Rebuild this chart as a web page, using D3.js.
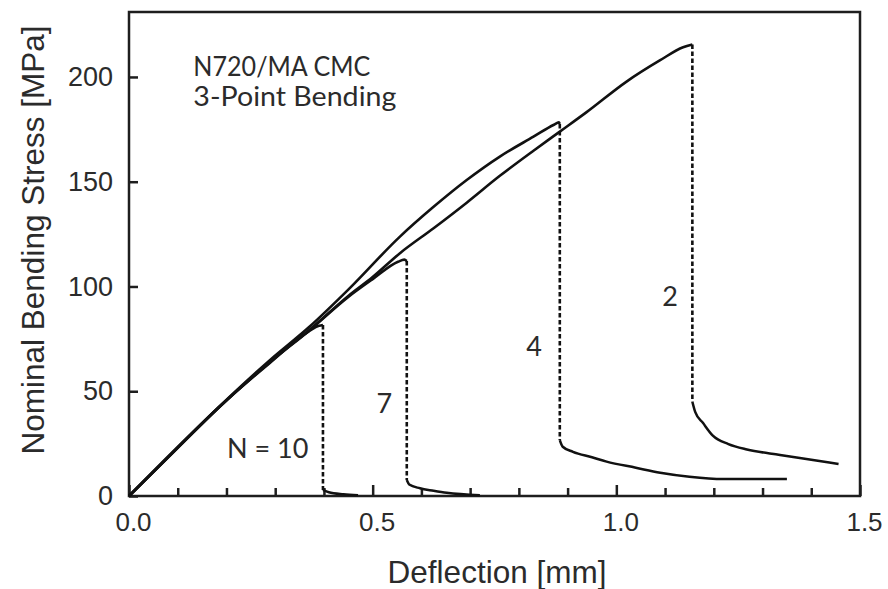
<!DOCTYPE html>
<html>
<head>
<meta charset="utf-8">
<script src="https://cdn.jsdelivr.net/npm/d3@7"></script>
<style>
  body { margin: 0; background: #fff; }
  svg { display: block; }
  .tick text { font-family: "Liberation Sans", Arial, sans-serif; fill: #2b2b2b; }
  .note { font-family: Lato, "Open Sans", sans-serif; fill: #2b2b2b; }
  .title { font-family: "Liberation Sans", Arial, sans-serif; fill: #2b2b2b; }
</style>
</head>
<body>
<div id="chart"></div>
<script>
// deflection [mm], stress [MPa]
var loadN10 = [[0,0],[0.1,23.2],[0.185,42.5],[0.289,63.5],[0.369,78.6],[0.39,81.2],[0.398,81.6]];
var tailN10 = [[0.398,2.9],[0.41,1.8],[0.44,0.8],[0.47,0.3]];

var loadN7 = [[0,0],[0.1,23],[0.185,42.3],[0.289,63.8],[0.369,78.8],[0.45,95],[0.5,103.5],[0.552,111.8],[0.565,112.8],[0.57,112.2]];
var tailN7 = [[0.57,7.6],[0.575,5.5],[0.597,3.7],[0.625,2.5],[0.652,1.5],[0.72,0.3]];

var loadN4 = [[0,0],[0.1,23.4],[0.185,42.6],[0.289,64.8],[0.369,80.5],[0.45,98.5],[0.556,123.8],[0.625,138],[0.693,150.8],[0.761,162],[0.83,171.5],[0.872,177.2],[0.882,178.3],[0.884,177.6]];
var tailN4 = [[0.884,26.7],[0.89,23.5],[0.911,21.1],[0.95,18.5],[0.98,16.4],[1.04,13.5],[1.09,11.1],[1.15,9.2],[1.219,8.1],[1.35,8.1]];

var loadN2 = [[0,0],[0.1,23],[0.185,42.5],[0.289,64],[0.369,79],[0.45,95.5],[0.5,104.5],[0.556,115.9],[0.625,127.8],[0.693,140],[0.761,152.8],[0.83,164.8],[0.884,173.9],[0.939,183.2],[1.021,197.8],[1.09,208],[1.137,214.2],[1.156,215.5]];
var tailN2 = [[1.156,45],[1.162,40],[1.178,34.8],[1.198,28.8],[1.23,24.8],[1.268,22.2],[1.336,19.6],[1.4,17.3],[1.456,15.3]];

var cycleLabels = ["N = 10", "7", "4", "2"];
var labelPos = [[0.201,18.3],[0.508,39.5],[0.815,66.8],[1.094,90.7]];
var noteLines = ["N720/MA CMC", "3-Point Bending"];

var xMajor = [0, 0.5, 1.0, 1.5];
var xMinor = [0.1,0.2,0.3,0.4,0.6,0.7,0.8,0.9,1.1,1.2,1.3,1.4];
var yTicks = [0, 50, 100, 150, 200];

var W = 888, H = 589;
var margin = {left: 129, top: 12, right: 28, bottom: 93};

var svg = d3.select("#chart").append("svg").attr("width", W).attr("height", H);

var x = d3.scaleLinear().domain([0, 1.5]).range([margin.left, W - margin.right]);
var y = d3.scaleLinear().domain([0, 231]).range([H - margin.bottom, margin.top]);

var line = d3.line()
  .x(function(d){ return x(d[0]); })
  .y(function(d){ return y(d[1]); })
  .curve(d3.curveMonotoneX);
var straight = d3.line().x(function(d){ return x(d[0]); }).y(function(d){ return y(d[1]); });

// axes
var gx = svg.append("g").attr("transform", "translate(0," + y(0) + ")");
gx.call(d3.axisBottom(x).tickValues(xMinor).tickSizeInner(-8).tickSizeOuter(0).tickFormat(""));
gx.select(".domain").remove();
var gx2 = svg.append("g").attr("transform", "translate(0," + y(0) + ")");
gx2.call(d3.axisBottom(x).tickValues(xMajor).tickSizeInner(-11).tickSizeOuter(0)
        .tickPadding(17).tickFormat(d3.format(".1f")));
gx2.select(".domain").remove();
gx2.selectAll(".tick text").attr("font-size", 26).attr("dx", 4);

var gy = svg.append("g").attr("transform", "translate(" + x(0) + ",0)");
gy.call(d3.axisLeft(y).tickValues(yTicks).tickSizeInner(-9).tickSizeOuter(0).tickPadding(16));
gy.select(".domain").remove();
gy.selectAll(".tick text").attr("font-size", 27);

svg.selectAll(".tick line").attr("stroke", "#1e1e1e").attr("stroke-width", 2.5);

svg.append("rect")
  .attr("x", x(0)).attr("y", y(231))
  .attr("width", x(1.5) - x(0)).attr("height", y(0) - y(231))
  .attr("fill", "none").attr("stroke", "#1e1e1e").attr("stroke-width", 2.5);

// curves
var loads = [loadN10, loadN7, loadN4, loadN2];
var tails = [tailN10, tailN7, tailN4, tailN2];

svg.selectAll(".load").data(loads).enter().append("path")
  .attr("class", "load")
  .attr("d", line)
  .attr("fill", "none").attr("stroke", "#111").attr("stroke-width", 2.6)
  .attr("stroke-linejoin", "round");

svg.selectAll(".drop").data(loads).enter().append("path")
  .attr("class", "drop")
  .attr("d", function(d, i){ return straight([d[d.length - 1], tails[i][0]]); })
  .attr("fill", "none").attr("stroke", "#111").attr("stroke-width", 2.6)
  .attr("stroke-dasharray", "4.5,2.5");

svg.selectAll(".tail").data(tails).enter().append("path")
  .attr("class", "tail")
  .attr("d", line)
  .attr("fill", "none").attr("stroke", "#111").attr("stroke-width", 2.5)
  .attr("stroke-linejoin", "round");

// labels
svg.selectAll(".cyc").data(cycleLabels).enter().append("text")
  .attr("class", "note cyc")
  .attr("x", function(d, i){ return x(labelPos[i][0]); })
  .attr("y", function(d, i){ return y(labelPos[i][1]); })
  .attr("font-size", 27)
  .text(function(d){ return d; });

svg.selectAll(".head").data(noteLines).enter().append("text")
  .attr("class", "note head")
  .attr("x", x(0.132))
  .attr("y", function(d, i){ return y(200.5) + i * 30.5; })
  .attr("font-size", 27)
  .attr("textLength", function(d, i){ return i === 0 ? 177 : 203; })
  .attr("lengthAdjust", "spacingAndGlyphs")
  .text(function(d){ return d; });

// axis titles
svg.append("text")
  .attr("class", "title")
  .attr("x", 497).attr("y", 583)
  .attr("text-anchor", "middle")
  .attr("font-size", 31.5)
  .text("Deflection [mm]");

svg.append("text")
  .attr("class", "title")
  .attr("transform", "translate(44,240) rotate(-90)")
  .attr("text-anchor", "middle")
  .attr("font-size", 31.5)
  .text("Nominal Bending Stress [MPa]");
</script>
</body>
</html>
